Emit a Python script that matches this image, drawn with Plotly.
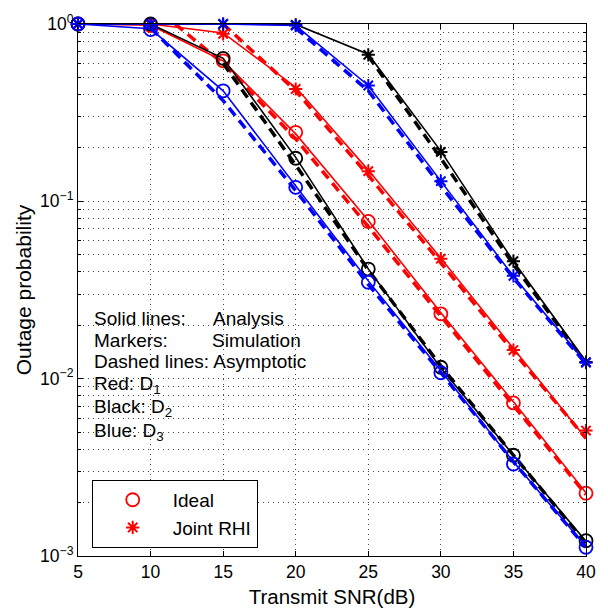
import plotly.graph_objects as go

snr = [5, 10, 15, 20, 25, 30, 35, 40]

red_ideal_ana = [1.0, 0.985, 0.62, 0.24, 0.078, 0.0235, 0.0074, 0.00227]
red_ideal_sim = [1.0, 0.98, 0.62, 0.245, 0.077, 0.0232, 0.0073, 0.00226]
red_ideal_asy = [None, 1.3, 0.6, 0.225, 0.072, 0.0225, 0.0071, 0.00222]
red_rhi_ana = [1.0, 1.0, 0.89, 0.44, 0.15, 0.0478, 0.0148, 0.0046]
red_rhi_sim = [1.0, 1.0, 0.88, 0.43, 0.148, 0.0475, 0.0145, 0.0051]
red_rhi_asy = [None, None, 1.0, 0.42, 0.14, 0.045, 0.0142, 0.0046]

black_ideal_ana = [1.0, 1.0, 0.64, 0.177, 0.0416, 0.0115, 0.0037, 0.00121]
black_ideal_sim = [1.0, 1.0, 0.64, 0.175, 0.0415, 0.0116, 0.0037, 0.00122]
black_ideal_asy = [None, None, 0.6, 0.16, 0.041, 0.0118, 0.0037, 0.00118]
black_rhi_ana = [1.0, 1.0, 1.0, 0.995, 0.676, 0.192, 0.0459, 0.0125]
black_rhi_sim = [1.0, 1.0, 1.0, 0.99, 0.67, 0.19, 0.046, 0.0124]
black_rhi_asy = [None, None, None, None, 0.66, 0.175, 0.044, 0.0122]

blue_ideal_ana = [1.0, 0.94, 0.42, 0.122, 0.0356, 0.0111, 0.0034, 0.00113]
blue_ideal_sim = [1.0, 0.93, 0.42, 0.12, 0.035, 0.0108, 0.0033, 0.00112]
blue_ideal_asy = [None, 0.95, 0.37, 0.115, 0.034, 0.0108, 0.0034, 0.00112]
blue_rhi_ana = [1.0, 1.0, 1.0, 0.98, 0.45, 0.13, 0.0378, 0.0123]
blue_rhi_sim = [1.0, 1.0, 1.0, 0.98, 0.45, 0.13, 0.038, 0.0123]
blue_rhi_asy = [None, None, None, 0.95, 0.42, 0.122, 0.037, 0.0121]

y_tickvals = [1e-3, 1e-2, 1e-1, 1]
y_ticktext = ["10<sup>−3</sup>", "10<sup>−2</sup>", "10<sup>−1</sup>", "10<sup>0</sup>"]
x_tickvals = [5, 10, 15, 20, 25, 30, 35, 40]

FONT = "Liberation Sans, Arial, sans-serif"
RED, BLACK, BLUE = "#ff0000", "#000000", "#0000ff"

fig = go.Figure()

groups = [
    (RED, red_ideal_ana, red_ideal_sim, red_ideal_asy, red_rhi_ana, red_rhi_sim, red_rhi_asy, True),
    (BLACK, black_ideal_ana, black_ideal_sim, black_ideal_asy, black_rhi_ana, black_rhi_sim, black_rhi_asy, False),
    (BLUE, blue_ideal_ana, blue_ideal_sim, blue_ideal_asy, blue_rhi_ana, blue_rhi_sim, blue_rhi_asy, False),
]

for color, ia, isim, iasy, ra, rsim, rasy, legend in groups:
    for ana in (ia, ra):
        fig.add_trace(go.Scatter(x=snr, y=ana, mode="lines", line=dict(color=color, width=1.6),
                                 showlegend=False, hoverinfo="skip"))
    for asy in (iasy, rasy):
        fig.add_trace(go.Scatter(x=snr, y=asy, mode="lines", connectgaps=False,
                                 line=dict(color=color, width=3.5, dash="10px,6px"),
                                 showlegend=False, hoverinfo="skip"))
    fig.add_trace(go.Scatter(x=snr, y=isim, mode="markers", name="Ideal", cliponaxis=False,
                             marker=dict(symbol="circle-open", size=13, color=color, line=dict(width=1.8, color=color)),
                             showlegend=legend))
    fig.add_trace(go.Scatter(x=snr, y=rsim, mode="markers", name="Joint RHI", cliponaxis=False,
                             marker=dict(symbol="asterisk-open", size=11, color=color, line=dict(width=2, color=color)),
                             showlegend=legend))

TS = 19
annots = []
for left, right, xx, yy in [("Solid lines:", "Analysis", 0.262, 0.447),
                            ("Markers:", "Simulation", 0.26, 0.406)]:
    annots.append(dict(text=left, x=0.027, y=yy, xref="paper", yref="paper", xanchor="left", yanchor="middle",
                       showarrow=False, font=dict(family=FONT, size=TS, color="black")))
    annots.append(dict(text=right, x=xx, y=yy, xref="paper", yref="paper", xanchor="left", yanchor="middle",
                       showarrow=False, font=dict(family=FONT, size=TS, color="black")))
annots.append(dict(text="Dashed lines: Asymptotic", x=0.027, y=0.365, xref="paper", yref="paper",
                   xanchor="left", yanchor="middle", showarrow=False,
                   font=dict(family=FONT, size=TS, color="black")))
for txt, yy in [("Red: D<sub>1</sub>", 0.322), ("Black: D<sub>2</sub>", 0.279), ("Blue: D<sub>3</sub>", 0.233)]:
    annots.append(dict(text=txt, x=0.027, y=yy, xref="paper", yref="paper", xanchor="left", yanchor="middle",
                       showarrow=False, font=dict(family=FONT, size=TS, color="black")))

grid = dict(showgrid=True, gridcolor="#444444", gridwidth=1, griddash="1px,4px")

fig.update_layout(
    width=608, height=616,
    margin=dict(l=78, r=13, t=21, b=60),
    paper_bgcolor="white", plot_bgcolor="white",
    font=dict(family=FONT, size=17, color="black"),
    annotations=annots,
    legend=dict(x=0.027, y=0.143, xanchor="left", yanchor="top", bgcolor="white",
                bordercolor="black", borderwidth=1, font=dict(family=FONT, size=19),
                itemwidth=70, tracegroupgap=0),
    xaxis=dict(range=[5, 40], tickvals=x_tickvals, ticks="inside", ticklen=5, tickcolor="black",
               showline=True, linecolor="black", linewidth=1, mirror="ticks", zeroline=False,
               title=dict(text="Transmit SNR(dB)", font=dict(size=20.5), standoff=8),
               tickfont=dict(size=17.5), **grid),
    yaxis=dict(type="log", range=[-3, 0], tickvals=y_tickvals, ticktext=y_ticktext, ticks="inside",
               ticklen=5, tickcolor="black", showline=True, linecolor="black", linewidth=1, mirror="ticks",
               zeroline=False, title=dict(text="Outage probability", font=dict(size=21), standoff=2),
               tickfont=dict(size=17.5),
               minor=dict(ticks="inside", ticklen=3, tickcolor="black", showgrid=True, gridcolor="#444444",
                          griddash="1px,4px", dtick="D1"),
               **grid),
)

fig.write_html("out.html")
